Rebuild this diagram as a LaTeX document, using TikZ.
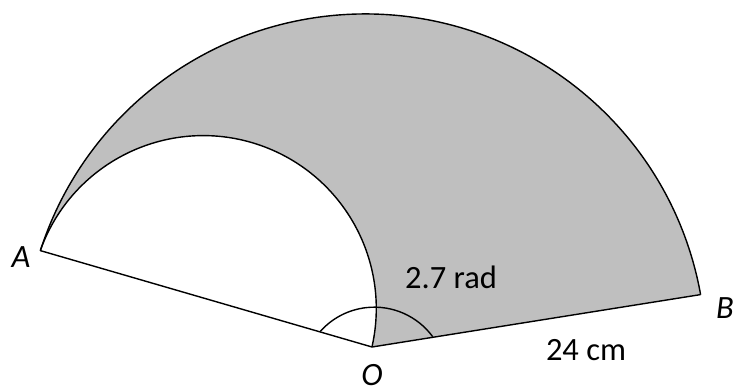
\documentclass[tikz,border=0pt]{standalone}
\usepackage{fontspec}
\setmainfont{Carlito}
\usepackage{xcolor}
\usetikzlibrary{positioning}
\definecolor{sectorgray}{HTML}{BFBFBF}

\begin{document}
\begin{tikzpicture}[x=0.02cm,y=0.02cm,line width=0.8pt,
  lbl/.style={font=\fontsize{18.5}{22}\selectfont,inner sep=0pt}]
  \useasboundingbox (0,0) rectangle (737,392);
  \coordinate (O) at (372,45);
  \coordinate (B) at (700.6,97.4);
  \coordinate (A) at (40.3,141.4);
  \coordinate (P) at (432.7,55.3); % start of the angle mark on OB
  % shaded part: sector minus the inner arc
  \fill[sectorgray] (O) -- (B) arc[start angle=10.2,end angle=162.2,radius=341]
    arc[start angle=160.4,end angle=-12.7,radius=173] -- cycle;
  \draw (B) arc[start angle=10.2,end angle=162.2,radius=341];
  \draw (A) arc[start angle=160.4,end angle=-12.7,radius=173];
  \draw[line join=miter] (A) -- (O) -- (B);
  \draw (P) arc[start angle=36.3,end angle=138.3,radius=72.4];
  % labels
  \node[lbl] (labA) at (21,135) {\itshape A};
  \node[lbl] (labB) at (725,83.5) {\itshape B};
  \node[lbl] (labO) at (372,16.5) {\itshape O};
  \node[lbl] (labang) at (451,114.5) {2.7 rad};
  \node[lbl] (labr) at (586,42) {24 cm};
\end{tikzpicture}
\end{document}
